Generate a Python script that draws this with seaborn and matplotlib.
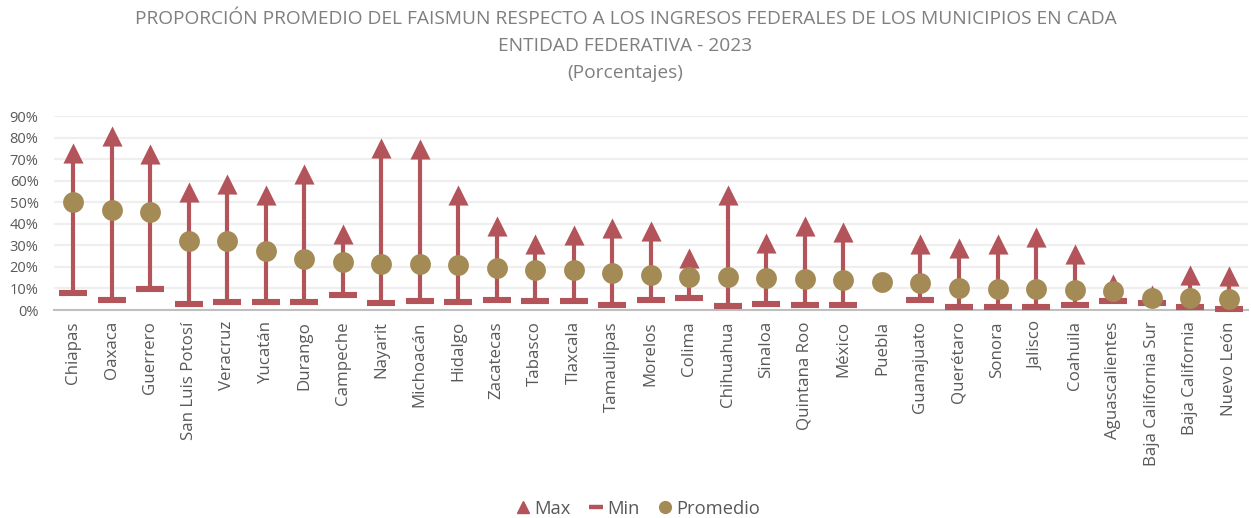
import numpy as np
import pandas as pd
import matplotlib
matplotlib.use("Agg")
import matplotlib.pyplot as plt
import seaborn as sns
from matplotlib.lines import Line2D
from matplotlib.ticker import PercentFormatter

states = ["Chiapas", "Oaxaca", "Guerrero", "San Luis Potosí", "Veracruz", "Yucatán",
          "Durango", "Campeche", "Nayarit", "Michoacán", "Hidalgo", "Zacatecas",
          "Tabasco", "Tlaxcala", "Tamaulipas", "Morelos", "Colima", "Chihuahua",
          "Sinaloa", "Quintana Roo", "México", "Puebla", "Guanajuato", "Querétaro",
          "Sonora", "Jalisco", "Coahuila", "Aguascalientes", "Baja California Sur",
          "Baja California", "Nuevo León"]
max_vals = [72.8, 80.6, 72.2, 54.6, 58.4, 53.3, 62.9, 35.4, 75.3, 74.8, 53.5, 38.8,
            30.5, 34.6, 38.0, 36.6, 24.0, 53.3, 31.1, 38.8, 36.2, np.nan, 30.6, 28.6,
            30.6, 33.9, 25.8, 12.2, 7.0, 16.4, 15.8]
min_vals = [8.0, 4.6, 9.7, 2.8, 3.9, 3.7, 3.9, 7.0, 3.1, 4.0, 3.6, 4.6,
            4.2, 4.3, 2.2, 4.6, 5.7, 2.0, 2.6, 2.5, 2.5, np.nan, 4.8, 1.2,
            1.2, 1.4, 2.5, 4.0, 3.2, 1.6, 0.3]
avg_vals = [50.2, 46.4, 45.5, 32.2, 32.1, 27.4, 23.8, 22.4, 21.3, 21.2, 20.9, 19.3,
            18.7, 18.6, 17.0, 16.4, 15.2, 15.2, 14.7, 14.2, 13.8, 13.2, 12.7, 10.0,
            9.7, 9.7, 9.3, 8.7, 5.4, 5.4, 4.9]

df = pd.DataFrame({"Entidad": states, "Max": max_vals, "Min": min_vals, "Promedio": avg_vals})

RED = "#B3545A"
GOLD = "#A48A54"
GRAY_TXT = "#595959"

sns.set_theme(style="white")
plt.rcParams["font.family"] = ["Open Sans", "DejaVu Sans"]

fig = plt.figure(figsize=(12.51, 5.18), dpi=100)
ax = fig.add_axes([0.0430, 0.4015, 0.9545, 0.3745])

x = np.arange(len(states))
ax.vlines(x, df["Min"], df["Max"], color=RED, linewidth=3.0, zorder=2)

sns.scatterplot(data=df, x="Entidad", y="Max", marker="^", s=210, color=RED,
                edgecolor=RED, linewidth=0, ax=ax, zorder=3, clip_on=False)
sns.scatterplot(data=df, x="Entidad", y="Min", marker="_", s=400, color=RED,
                linewidth=4.4, ax=ax, zorder=3, clip_on=False)
sns.scatterplot(data=df, x="Entidad", y="Promedio", marker="o", s=225, color=GOLD,
                edgecolor=GOLD, linewidth=0, ax=ax, zorder=4, clip_on=False)

ax.set_xlim(-0.5, len(states) - 0.5)
ax.set_ylim(0, 90)
ax.set_yticks(np.arange(0, 91, 10))
ax.yaxis.set_major_formatter(PercentFormatter(decimals=0))
ax.grid(axis="y", color="#EFEFEF", linewidth=1.6)
ax.set_axisbelow(True)
for s in ["top", "right", "left"]:
    ax.spines[s].set_visible(False)
ax.spines["bottom"].set_color("#BFBFBF")
ax.spines["bottom"].set_linewidth(1.5)
ax.set_xlabel("")
ax.set_ylabel("")
ax.set_xticks(x)
ax.set_xticklabels(states, rotation=90, fontsize=12.2, color=GRAY_TXT)
ax.tick_params(axis="x", length=0, pad=8)
ax.tick_params(axis="y", length=0, labelsize=10.5, labelcolor=GRAY_TXT, pad=11)

title_kw = dict(ha="center", va="center", fontsize=13.8, color="#7F7F7F")
fig.text(0.5, 0.963, "PROPORCIÓN PROMEDIO DEL FAISMUN RESPECTO A LOS INGRESOS FEDERALES DE LOS MUNICIPIOS EN CADA", **title_kw)
fig.text(0.5, 0.911, "ENTIDAD FEDERATIVA - 2023", **title_kw)
fig.text(0.5, 0.859, "(Porcentajes)", **title_kw)

handles = [
    Line2D([], [], marker="^", linestyle="none", color=RED, markersize=8.5),
    Line2D([], [], marker="_", linestyle="none", color=RED, markersize=9.5, markeredgewidth=3.2),
    Line2D([], [], marker="o", linestyle="none", color=GOLD, markersize=8.5),
]
fig.legend(handles, ["Max", "Min", "Promedio"], loc="center", bbox_to_anchor=(0.509, 0.018),
           ncol=3, frameon=False, fontsize=13.2, labelcolor=GRAY_TXT, handletextpad=0.1,
           columnspacing=0.9, handlelength=1.0)

fig.savefig("out.png", dpi=100)
